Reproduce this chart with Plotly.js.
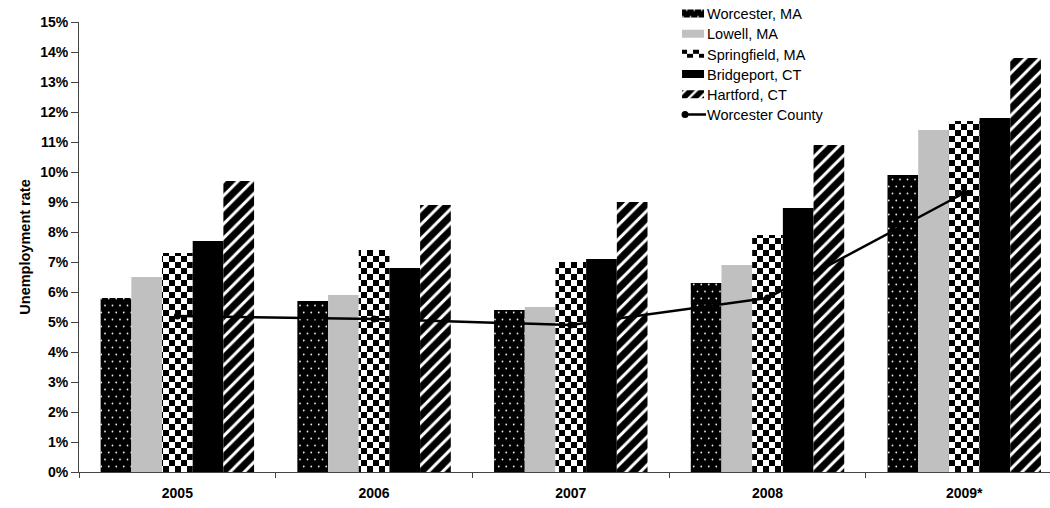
<!DOCTYPE html>
<html>
<head>
<meta charset="utf-8">
<script src="https://cdn.plot.ly/plotly-3.0.1.min.js"></script>
<style>
  html, body { margin: 0; padding: 0; background: #fff; }
  #chart { width: 1050px; height: 508px; }
</style>
</head>
<body>
<div id="chart"></div>
<script>
// Annual unemployment rates (%) by metro area, plus the county average
const years = ['2005', '2006', '2007', '2008', '2009*'];
const worcesterMA   = [5.8, 5.7, 5.4, 6.3, 9.9];
const lowellMA      = [6.5, 5.9, 5.5, 6.9, 11.4];
const springfieldMA = [7.3, 7.4, 7.0, 7.9, 11.7];
const bridgeportCT  = [7.7, 6.8, 7.1, 8.8, 11.8];
const hartfordCT    = [9.7, 8.9, 9.0, 10.9, 13.8];
const worcesterCounty = [5.2, 5.1, 4.9, 5.8, 9.3];
const yTicks = [0,1,2,3,4,5,6,7,8,9,10,11,12,13,14,15];

const FONT = 'Liberation Sans, Arial, sans-serif';

const traces = [
  {
    type: 'bar', name: 'Worcester, MA', x: years, y: worcesterMA,
    marker: { color: '#000', line: { width: 0 } }
  },
  {
    type: 'bar', name: 'Lowell, MA', x: years, y: lowellMA,
    marker: { color: '#c0c0c0', line: { width: 0 } }
  },
  {
    type: 'bar', name: 'Springfield, MA', x: years, y: springfieldMA,
    marker: { color: '#000', line: { width: 0 } }
  },
  {
    type: 'bar', name: 'Bridgeport, CT', x: years, y: bridgeportCT,
    marker: { color: '#000', line: { width: 0 } }
  },
  {
    type: 'bar', name: 'Hartford, CT', x: years, y: hartfordCT,
    marker: { color: '#000', line: { width: 0 },
      pattern: { shape: '/', fgcolor: '#000', bgcolor: '#fff', size: 10, solidity: 0.7, fillmode: 'replace' } }
  },
  {
    type: 'scatter', mode: 'lines+markers', name: 'Worcester County', x: years, y: worcesterCounty,
    line: { color: '#000', width: 2.5 },
    marker: { color: '#000', size: 7, symbol: 'circle' }
  }
];

const layout = {
  width: 1050, height: 508,
  margin: { l: 79, r: 0, t: 22, b: 36, pad: 0, autoexpand: false },
  paper_bgcolor: '#fff', plot_bgcolor: '#fff',
  font: { family: FONT, size: 14, color: '#000' },
  barmode: 'group', bargap: 0.22, bargroupgap: 0,
  showlegend: true,
  legend: {
    x: 0.6056, y: 1.0544, xanchor: 'left', yanchor: 'top',
    bgcolor: 'rgba(0,0,0,0)', borderwidth: 0,
    font: { family: FONT, size: 14.5, color: '#000' },
    tracegroupgap: 0, traceorder: 'normal'
  },
  xaxis: {
    type: 'category', range: [-0.5, 4.436],
    showline: true, linecolor: '#444', linewidth: 1,
    showgrid: false, zeroline: false,
    ticks: 'outside', ticklen: 5, tickcolor: '#444', tickson: 'boundaries',
    ticklabelstandoff: 8,
    tickfont: { family: FONT, size: 14, color: '#000', weight: 'bold' }
  },
  yaxis: {
    range: [0, 15], tickvals: yTicks, ticktext: yTicks.map(v => v + '%'),
    showline: true, linecolor: '#444', linewidth: 1,
    showgrid: false, zeroline: false,
    ticks: 'outside', ticklen: 7, tickcolor: '#444',
    tickfont: { family: FONT, size: 14, color: '#000', weight: 'bold' },
    title: { text: 'Unemployment rate', standoff: 6,
      font: { family: FONT, size: 14.5, color: '#000', weight: 'bold' } }
  }
};

// SVG fills: staggered dots for Worcester, checkerboard for Springfield
function makePattern(defs, id, w, h, shapes) {
  const ns = 'http://www.w3.org/2000/svg';
  if (document.getElementById(id)) return;
  const p = document.createElementNS(ns, 'pattern');
  p.setAttribute('id', id);
  p.setAttribute('patternUnits', 'userSpaceOnUse');
  p.setAttribute('width', w); p.setAttribute('height', h);
  shapes.forEach(s => {
    const el = document.createElementNS(ns, s.tag);
    Object.keys(s.attrs).forEach(k => el.setAttribute(k, s.attrs[k]));
    p.appendChild(el);
  });
  defs.appendChild(p);
}

function decorate(gd) {
  const ns = 'http://www.w3.org/2000/svg';
  const svg = gd.querySelector('svg.main-svg');
  let defs = svg.querySelector('defs');
  if (!defs) { defs = document.createElementNS(ns, 'defs'); svg.prepend(defs); }
  makePattern(defs, 'checker', 12, 12, [
    { tag: 'rect', attrs: { x: 0, y: 0, width: 12, height: 12, fill: '#fff' } },
    { tag: 'rect', attrs: { x: 0, y: 0, width: 6, height: 6, fill: '#000' } },
    { tag: 'rect', attrs: { x: 6, y: 6, width: 6, height: 6, fill: '#000' } }
  ]);
  makePattern(defs, 'dots', 15, 14, [
    { tag: 'rect', attrs: { x: 0, y: 0, width: 15, height: 14, fill: '#000' } },
    { tag: 'circle', attrs: { cx: 3.5, cy: 3.5, r: 0.9, fill: '#e8e8e8' } },
    { tag: 'circle', attrs: { cx: 11, cy: 3.5, r: 0.9, fill: '#e8e8e8' } },
    { tag: 'circle', attrs: { cx: 7.25, cy: 10.5, r: 0.9, fill: '#e8e8e8' } },
    { tag: 'circle', attrs: { cx: 14.75, cy: 10.5, r: 0.9, fill: '#e8e8e8' } },
    { tag: 'circle', attrs: { cx: -0.25, cy: 10.5, r: 0.9, fill: '#e8e8e8' } }
  ]);
  const fills = { 0: 'url(#dots)', 2: 'url(#checker)' };
  const barTraces = gd.querySelectorAll('.barlayer .trace');
  Object.keys(fills).forEach(i => {
    if (barTraces[i]) barTraces[i].querySelectorAll('path').forEach(el => { el.style.fill = fills[i]; });
  });
  const legItems = gd.querySelectorAll('.legend .traces');
  let firstY = null;
  legItems.forEach((item, i) => {
    // tighter, even row spacing
    const m = /translate\(\s*([-\d.]+)[ ,]+([-\d.]+)\s*\)/.exec(item.getAttribute('transform') || '');
    if (m) {
      if (firstY === null) firstY = parseFloat(m[2]);
      item.setAttribute('transform', 'translate(' + m[1] + ',' + (firstY + i * 20.2) + ')');
    }
    if (i < 5) {
      const path = item.querySelector('.legendpoints path');
      if (path) {
        path.setAttribute('d', 'M17,4H-5V-4H17Z');
        if (fills[i]) path.style.fill = fills[i];
      }
    } else {
      const line = item.querySelector('.legendlines path');
      if (line) line.setAttribute('d', 'M18,0h21');
      const pt = item.querySelector('.legendpoints path.scatterpts');
      if (pt) pt.setAttribute('transform', 'translate(18,0)');
    }
  });
}

const gd = document.getElementById('chart');
Plotly.newPlot(gd, traces, layout, { staticPlot: true, displayModeBar: false }).then(() => {
  decorate(gd);
  gd.on('plotly_afterplot', () => decorate(gd));
});
</script>
</body>
</html>
